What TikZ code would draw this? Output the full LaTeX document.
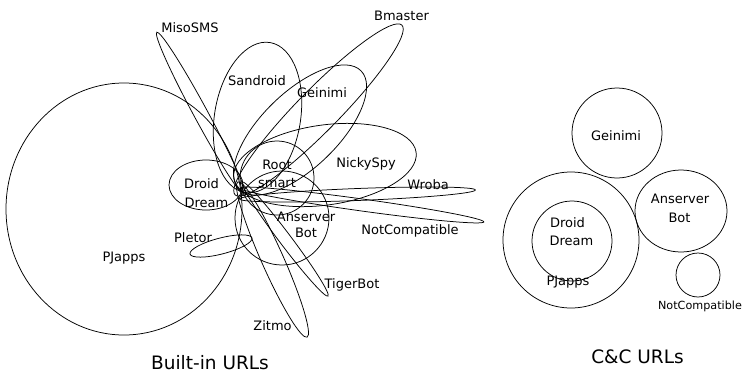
\documentclass[tikz,border=0pt]{standalone}
\usepackage{fontspec}
\setmainfont{DejaVu Sans}
\begin{document}
\begin{tikzpicture}[x=1pt,y=-1pt,line width=0.75pt,
  lab/.style={font=\fontsize{13}{15}\selectfont,inner sep=0pt,anchor=base},
  smalllab/.style={font=\fontsize{11.2}{13}\selectfont,inner sep=0pt,anchor=base},
  biglab/.style={font=\fontsize{18.5}{22}\selectfont,inner sep=0pt,anchor=base},
  set/.style={draw=black}]
\useasboundingbox (0,0) rectangle (746,375);

% ---------- Built-in URLs ----------
\draw[set] (124,209) ellipse [x radius=118pt,y radius=126pt];                          % PJapps
\draw[set] (206,185) ellipse [x radius=37pt,y radius=25pt];                            % DroidDream
\draw[set,rotate around={118.4:(201,114)}] (201,114) ellipse [x radius=93pt,y radius=7pt];   % MisoSMS
\draw[set,rotate around={45.5:(318.5,110)}] (318.5,110) ellipse [x radius=119pt,y radius=21pt]; % Bmaster
\draw[set,rotate around={80.5:(257.5,117.5)}] (257.5,117.5) ellipse [x radius=76pt,y radius=43pt]; % Sandroid
\draw[set,rotate around={44:(300,130)}] (300,130) ellipse [x radius=85pt,y radius=38pt];     % Geinimi
\draw[set] (277,178) circle [radius=37pt];                                                % Root smart
\draw[set,rotate around={8:(325,165)}] (325,165) ellipse [x radius=92pt,y radius=40pt];      % NickySpy
\draw[set,rotate around={2.2:(357.5,194.5)}] (357.5,194.5) ellipse [x radius=118pt,y radius=6pt]; % Wroba
\draw[set,rotate around={-7.9:(362,205)}] (362,205) ellipse [x radius=123pt,y radius=6pt];   % NotCompatible
\draw[set] (282,218) circle [radius=47pt];                                                % AnserverBot
\draw[set,rotate around={14.5:(221,246)}] (221,246) ellipse [x radius=32pt,y radius=8pt];    % Pletor
\draw[set,rotate around={-53:(285,239)}] (285,239) ellipse [x radius=71.5pt,y radius=6pt];   % TigerBot
\draw[set,rotate around={-66:(272.5,259.5)}] (272.5,259.5) ellipse [x radius=85pt,y radius=11pt]; % Zitmo

\node[lab] (lmiso) at (190,32) {MisoSMS};
\node[lab] (lbmaster) at (401.5,20) {Bmaster};
\node[lab] (lsand) at (257,85) {Sandroid};
\node[lab] (lgein) at (322,97) {Geinimi};
\node[lab] (lroot) at (277,169) {Root};
\node[lab] (lsmart) at (277,187) {smart};
\node[lab] (lnicky) at (366,167.5) {NickySpy};
\node[lab] (lwroba) at (428,189) {Wroba};
\node[lab] (lnotc) at (410,234) {NotCompatible};
\node[lab] (lans) at (306,221) {Anserver};
\node[lab] (lbot) at (306,237.5) {Bot};
\node[lab] (ldroid) at (201.5,188) {Droid};
\node[lab] (ldream) at (206.5,207) {Dream};
\node[lab] (lpletor) at (193,242) {Pletor};
\node[lab] (lpj) at (124,261.5) {PJapps};
\node[lab] (ltiger) at (352,288) {TigerBot};
\node[lab] (lzitmo) at (272.5,330) {Zitmo};
\node[biglab] (lbuilt) at (210,369.5) {Built-in URLs};

% ---------- C&C URLs ----------
\draw[set] (617,133) circle [radius=45pt];
\draw[set] (571,240) circle [radius=68pt];
\draw[set] (572,241) circle [radius=40pt];
\draw[set] (681,211) ellipse [x radius=46pt,y radius=41pt];
\draw[set] (698,275) circle [radius=22pt];

\node[lab] (rgein) at (616,140) {Geinimi};
\node[lab] (rdroid) at (567.5,227) {Droid};
\node[lab] (rdream) at (571.5,245) {Dream};
\node[lab] (rpj) at (568,285) {PJapps};
\node[lab] (rans) at (680,203) {Anserver};
\node[lab] (rbot) at (679.5,222) {Bot};
\node[smalllab] (rnotc) at (700,309.5) {NotCompatible};
\node[biglab] (lcc) at (637.5,363) {C\&C URLs};
\end{tikzpicture}
\end{document}
